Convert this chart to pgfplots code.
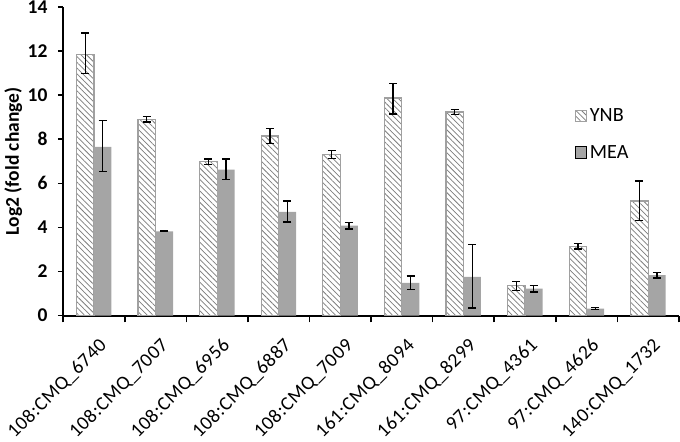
\documentclass[border=0pt]{standalone}
\usepackage{pgfplots}
\pgfplotsset{compat=1.18}
\usepackage{pgfplotstable}
\usepackage{fontspec}
\setmainfont{Carlito}
\newfontfamily\spaced[LetterSpace=3]{Carlito}
\usetikzlibrary{patterns.meta}
\definecolor{meagray}{RGB}{165,165,165}
\definecolor{hatchc}{RGB}{125,125,125}
\definecolor{edgec}{RGB}{160,160,160}
\pgfplotstableread{
x ynb ynbp ynbm mea meap meam
0 11.85 0.97 0.87 7.65 1.20 1.10
1 8.90 0.12 0.12 3.82 0.02 0.02
2 6.98 0.12 0.12 6.62 0.48 0.45
3 8.15 0.35 0.35 4.70 0.50 0.45
4 7.31 0.17 0.17 4.08 0.15 0.15
5 9.87 0.67 0.72 1.48 0.32 0.30
6 9.24 0.12 0.12 1.76 1.46 1.42
7 1.35 0.20 0.20 1.22 0.15 0.15
8 3.14 0.12 0.12 0.32 0.05 0.05
9 5.20 0.90 0.90 1.83 0.12 0.12
}\data
\begin{document}
\begin{tikzpicture}[x=1pt,y=1pt]
\begin{axis}[
  scale only axis,
  width=458pt, height=229.5pt,
  ybar=0pt, bar width=13pt,
  xmin=-0.5, xmax=9.5,
  ymin=0, ymax=14,
  ytick={0,2,...,14},
  xtick={0,...,9},
  xticklabels={108:CMQ\_6740,108:CMQ\_7007,108:CMQ\_6956,108:CMQ\_6887,108:CMQ\_7009,161:CMQ\_8094,161:CMQ\_8299,97:CMQ\_4361,97:CMQ\_4626,140:CMQ\_1732},
  minor xtick={-0.5,0.5,...,9.5},
  major x tick style={draw=none},
  tick align=outside,
  major tick length=4pt,
  minor tick length=5pt,
  tick style={black, line width=1.2pt},
  axis x line*=bottom,
  axis y line*=left,
  axis line style={black, line width=1.5pt, -},
  /pgf/number format/assume math mode=true,
  yticklabel style={font=\fontsize{14.5}{16}\selectfont\bfseries, inner sep=0.5pt, xshift=-7pt},
  xticklabel shift=11pt,
  xticklabel style={font=\fontsize{14.5}{16}\spaced\selectfont, xshift=3pt, rotate=45, anchor=north east, inner sep=0.5pt},
  ylabel={Log2 (fold change)},
  ylabel style={font=\fontsize{14.5}{16}\selectfont\bfseries},
  legend style={draw=none, fill=none, at={(rel axis cs:0.83,0.68)}, anchor=north west,
     font=\fontsize{15}{17}\selectfont, row sep=12pt, inner sep=0pt,
     legend cell align=left},
  legend image code/.code={\draw[#1] (0pt,-4pt) rectangle (8.5pt,4.5pt);},
  error bars/y dir=both,
  error bars/y explicit,
  error bars/error bar style={black, line width=1pt},
  error bars/error mark options={black, rotate=90, mark size=3pt, line width=1pt},
]
\addplot[draw=edgec, line width=0.9pt, fill=white,
  postaction={pattern={Lines[angle=-45,distance=3pt,line width=0.55pt]}, pattern color=hatchc}]
  table[x=x, y=ynb, y error plus=ynbp, y error minus=ynbm] {\data};
\addplot[draw=none, fill=meagray]
  table[x=x, y=mea, y error plus=meap, y error minus=meam] {\data};
\legend{YNB, MEA}
\end{axis}
\end{tikzpicture}
\end{document}
